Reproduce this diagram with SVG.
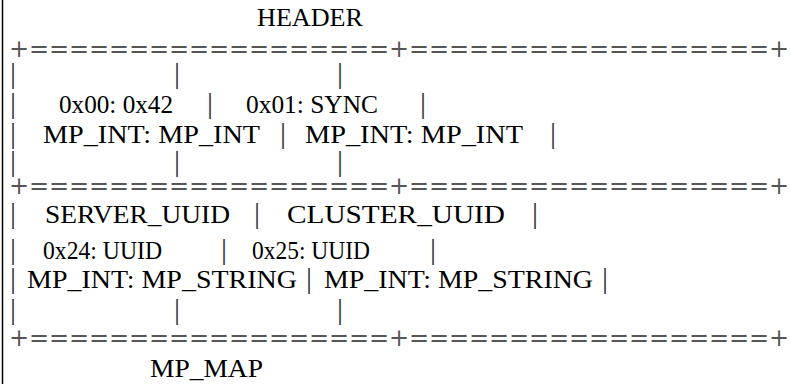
<svg xmlns="http://www.w3.org/2000/svg" width="791" height="384" viewBox="0 0 791 384">
<style>
  text { font-family: "Liberation Serif", "Times New Roman", serif; font-size: 26px; fill: #000; }
  .p { text-anchor: middle; fill: #333; font-size: 30px; }
  .rule { font-family: "DejaVu Serif", "Liberation Serif", serif; font-size: 24px; fill: #555; }
</style>
<rect x="0" y="0" width="791" height="384" fill="#fff"/>
<line x1="2.5" y1="0" x2="2.5" y2="384" stroke="#000" stroke-width="1.5"/>

<g id="header">
  <text x="257" y="26" textLength="106" lengthAdjust="spacingAndGlyphs">HEADER</text>
</g>

<g id="connectors">
  <text class="rule" x="9" y="57" textLength="780" lengthAdjust="spacing">+==================+==================+</text>
  <text class="rule" x="9" y="194" textLength="780" lengthAdjust="spacing">+==================+==================+</text>
  <text class="rule" x="9" y="346" textLength="780" lengthAdjust="spacing">+==================+==================+</text>

  <text class="p" x="13" y="83">|</text>
  <text class="p" x="177" y="83">|</text>
  <text class="p" x="340" y="83">|</text>

  <text class="p" x="13" y="113">|</text>
  <text class="p" x="210" y="113">|</text>
  <text class="p" x="423" y="113">|</text>

  <text class="p" x="13" y="143">|</text>
  <text class="p" x="283" y="143">|</text>
  <text class="p" x="553" y="143">|</text>

  <text class="p" x="13" y="171">|</text>
  <text class="p" x="177" y="171">|</text>
  <text class="p" x="340" y="171">|</text>

  <text class="p" x="13" y="223">|</text>
  <text class="p" x="257" y="223">|</text>
  <text class="p" x="535" y="223">|</text>

  <text class="p" x="13" y="259">|</text>
  <text class="p" x="224" y="259">|</text>
  <text class="p" x="433" y="259">|</text>

  <text class="p" x="13" y="288">|</text>
  <text class="p" x="309" y="288">|</text>
  <text class="p" x="605" y="288">|</text>

  <text class="p" x="13" y="319">|</text>
  <text class="p" x="177" y="319">|</text>
  <text class="p" x="340" y="319">|</text>
</g>

<g id="cell-key-0x00">
  <text x="59" y="113" textLength="114" lengthAdjust="spacingAndGlyphs">0x00: 0x42</text>
  <text x="43" y="143" textLength="217" lengthAdjust="spacingAndGlyphs">MP_INT: MP_INT</text>
</g>

<g id="cell-key-0x01">
  <text x="246" y="113" textLength="132" lengthAdjust="spacingAndGlyphs">0x01: SYNC</text>
  <text x="305" y="143" textLength="218" lengthAdjust="spacingAndGlyphs">MP_INT: MP_INT</text>
</g>

<g id="cell-server-uuid">
  <text x="45" y="223" textLength="185" lengthAdjust="spacingAndGlyphs">SERVER_UUID</text>
  <text x="43" y="259" textLength="119" lengthAdjust="spacingAndGlyphs">0x24: UUID</text>
  <text x="27" y="288" textLength="270" lengthAdjust="spacingAndGlyphs">MP_INT: MP_STRING</text>
</g>

<g id="cell-cluster-uuid">
  <text x="287" y="223" textLength="218" lengthAdjust="spacingAndGlyphs">CLUSTER_UUID</text>
  <text x="252" y="259" textLength="118" lengthAdjust="spacingAndGlyphs">0x25: UUID</text>
  <text x="324" y="288" textLength="269" lengthAdjust="spacingAndGlyphs">MP_INT: MP_STRING</text>
</g>

<g id="footer">
  <text x="150" y="377" textLength="113" lengthAdjust="spacingAndGlyphs">MP_MAP</text>
</g>
</svg>
